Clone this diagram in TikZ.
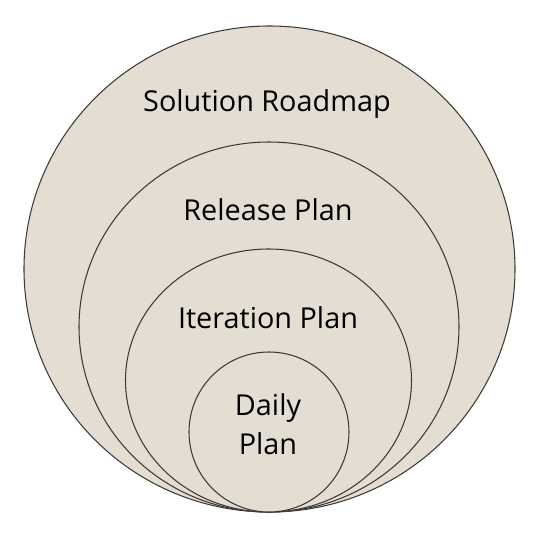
\documentclass[tikz,border=0pt]{standalone}
\usepackage{fontspec}
\setmainfont{Open Sans}
\usepackage{xcolor}
\usetikzlibrary{positioning}
\definecolor{planfill}{RGB}{227,221,210}
\definecolor{planline}{RGB}{60,58,55}

\begin{document}
\begin{tikzpicture}[x=0.02cm, y=-0.02cm]
        \tikzset{
            ring/.style={fill=planfill, draw=planline, line width=0.6pt},
            lbl/.style={font=\fontsize{16.4}{22.5}\selectfont, align=center, inner sep=0pt}
        }
        \useasboundingbox (0, 0) rectangle (535, 538);
        % outer to inner, all touching at the bottom
        \draw [ring] (269.5, 269) ellipse [x radius=245.5, y radius=243];
        \draw [ring] (269, 327) ellipse [x radius=190, y radius=185];
        \draw [ring] (268.5, 380.5) ellipse [x radius=143, y radius=131.5];
        \draw [ring] (269, 432) ellipse [x radius=80, y radius=80];

        \node [lbl] (roadmap) at (267, 104) {Solution Roadmap};
        \node [lbl] (release) at (268, 210) {Release Plan};
        \node [lbl] (iteration) at (268, 318) {Iteration Plan};
        \node [lbl] (daily) at (268, 424) {Daily\\Plan};
    \end{tikzpicture}
\end{document}
